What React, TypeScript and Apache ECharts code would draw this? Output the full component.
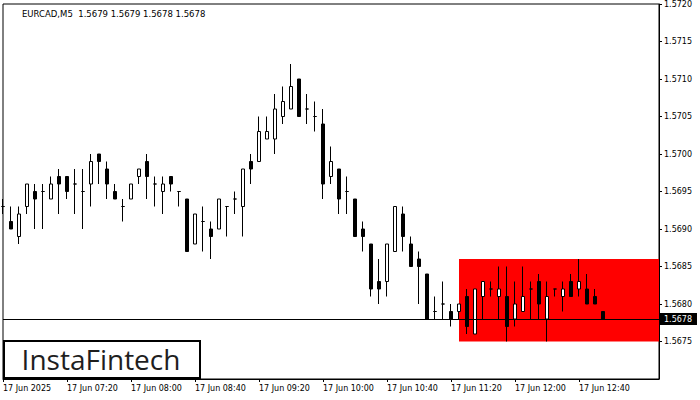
import React, { useEffect, useRef } from 'react';
import * as echarts from 'echarts';

// ---- Data (EURCAD, M5, 17 Jun 2025) ----
const dayLabel = '17 Jun 2025';
const datePrefix = '17 Jun ';
const firstSlot = '06:40';
const slotCount = 83; // 76 bars + 7 empty slots on the right

const opens = [
  1.5693, 1.5691, 1.5689, 1.5693, 1.5695, 1.5695, 1.5694, 1.5697, 1.5697, 1.5696,
  1.5695, 1.5696, 1.5700, 1.5698, 1.5695, 1.5693, 1.5694, 1.5697, 1.5699, 1.5696,
  1.5695, 1.5697, 1.5695, 1.5694, 1.5688, 1.5691, 1.5690, 1.5690, 1.5693, 1.5694,
  1.5693, 1.5699, 1.5699, 1.5702, 1.5702, 1.5705, 1.5706, 1.5710, 1.5706, 1.5705,
  1.5704, 1.5697, 1.5698, 1.5695, 1.5694, 1.5690, 1.5688, 1.5683, 1.5683, 1.5687,
  1.5692, 1.5688, 1.5686, 1.5684, 1.5679, 1.5680, 1.5679, 1.5679, 1.5681, 1.5676,
  1.5681, 1.5682, 1.5681, 1.5681, 1.5678, 1.5679, 1.5682, 1.5683, 1.5678, 1.5682,
  1.5681, 1.5683, 1.5682, 1.5682, 1.5681, 1.5679,
];
const closes = [
  1.5693, 1.5690, 1.5692, 1.5696, 1.5694, 1.5695, 1.5696, 1.5696, 1.5695, 1.5696,
  1.5695, 1.5699, 1.5699, 1.5696, 1.5694, 1.5693, 1.5696, 1.5698, 1.5697, 1.5696,
  1.5696, 1.5696, 1.5695, 1.5687, 1.5692, 1.5691, 1.5689, 1.5694, 1.5693, 1.5694,
  1.5698, 1.5698, 1.5703, 1.5703, 1.5706, 1.5707, 1.5709, 1.5705, 1.5706, 1.5705,
  1.5696, 1.5699, 1.5694, 1.5695, 1.5689, 1.5689, 1.5682, 1.5682, 1.5688, 1.5693,
  1.5689, 1.5685, 1.5685, 1.5678, 1.5679, 1.5680, 1.5678, 1.5680, 1.5677, 1.5682,
  1.5683, 1.5682, 1.5682, 1.5677, 1.5680, 1.5681, 1.5682, 1.5680, 1.5681, 1.5682,
  1.5682, 1.5681, 1.5683, 1.5680, 1.5680, 1.5678,
];
const lows = [
  1.5692, 1.5690, 1.5688, 1.5692, 1.5690, 1.5690, 1.5694, 1.5692, 1.5694, 1.5692,
  1.5690, 1.5693, 1.5696, 1.5694, 1.5694, 1.5691, 1.5694, 1.5696, 1.5694, 1.5693,
  1.5692, 1.5695, 1.5693, 1.5687, 1.5688, 1.5687, 1.5686, 1.5690, 1.5689, 1.5692,
  1.5689, 1.5696, 1.5699, 1.5702, 1.5700, 1.5704, 1.5706, 1.5705, 1.5704, 1.5703,
  1.5694, 1.5696, 1.5692, 1.5692, 1.5689, 1.5687, 1.5681, 1.5680, 1.5681, 1.5687,
  1.5687, 1.5685, 1.5680, 1.5678, 1.5678, 1.5678, 1.5677, 1.5678, 1.5676, 1.5676,
  1.5678, 1.5681, 1.5678, 1.5675, 1.5677, 1.5679, 1.5678, 1.5678, 1.5675, 1.5681,
  1.5679, 1.5681, 1.5681, 1.5680, 1.5680, 1.5678,
];
const highs = [
  1.5694, 1.5693, 1.5693, 1.5696, 1.5696, 1.5696, 1.5697, 1.5698, 1.5697, 1.5698,
  1.5698, 1.5700, 1.5700, 1.5699, 1.5696, 1.5694, 1.5696, 1.5698, 1.5700, 1.5697,
  1.5697, 1.5697, 1.5695, 1.5694, 1.5692, 1.5693, 1.5691, 1.5694, 1.5693, 1.5695,
  1.5698, 1.5700, 1.5705, 1.5705, 1.5708, 1.5709, 1.5712, 1.5710, 1.5708, 1.5707,
  1.5706, 1.5701, 1.5698, 1.5697, 1.5694, 1.5691, 1.5688, 1.5686, 1.5688, 1.5693,
  1.5693, 1.5689, 1.5687, 1.5684, 1.5681, 1.5683, 1.5680, 1.5680, 1.5682, 1.5682,
  1.5683, 1.5683, 1.5685, 1.5685, 1.5683, 1.5685, 1.5683, 1.5684, 1.5683, 1.5682,
  1.5683, 1.5684, 1.5686, 1.5684, 1.5682, 1.5679,
];

const priceTicks = [1.5675, 1.568, 1.5685, 1.569, 1.5695, 1.57, 1.5705, 1.571, 1.5715, 1.572];
const priceMin = 1.567;
const priceMax = 1.572;
const bidPrice = 1.5678;
const zoneTop = 1.5686;
const zoneBottom = 1.5675;
const zoneStart = '11:25';
const zoneEnd = '13:30';
const titleText = 'EURCAD,M5  1.5679 1.5679 1.5678 1.5678';
const logoText = 'InstaFintech';

function buildSlots(): string[] {
  const [h0, m0] = firstSlot.split(':').map(Number);
  const out: string[] = [];
  for (let i = 0; i < slotCount; i++) {
    const t = h0 * 60 + m0 + i * 5;
    const hh = String(Math.floor(t / 60)).padStart(2, '0');
    const mm = String(t % 60).padStart(2, '0');
    out.push(`${hh}:${mm}`);
  }
  return out;
}

export default function App() {
  const ref = useRef<HTMLDivElement>(null);

  useEffect(() => {
    if (!ref.current) return;
    const chart = echarts.init(ref.current, undefined, { renderer: 'svg' });
    const slots = buildSlots();
    const candles = opens.map((o, i) => [o, closes[i], lows[i], highs[i]]);
    const font = 'DejaVu Sans';
    const showIdx = (i: number) => i % 8 === 0 && i <= 72;

    chart.setOption({
      animation: false,
      backgroundColor: '#ffffff',
      title: {
        text: titleText,
        left: 17,
        top: 4,
        textStyle: { fontFamily: font, fontSize: 8.5, fontWeight: 'normal', color: '#000' },
      },
      grid: {
        left: 3,
        right: 41,
        top: 3,
        bottom: 21,
        show: true,
        borderColor: '#000',
        borderWidth: 1,
        backgroundColor: 'transparent',
      },
      xAxis: {
        type: 'category',
        data: slots,
        boundaryGap: false,
        axisLine: { show: true, lineStyle: { color: '#000', width: 1 } },
        axisTick: { show: true, length: 3, interval: (i: number) => showIdx(i), lineStyle: { color: '#000' } },
        axisLabel: {
          interval: (i: number) => showIdx(i),
          formatter: (v: string, i: number) => (i === 0 ? dayLabel : datePrefix + v),
          align: 'left',
          margin: 5,
          fontFamily: font,
          fontSize: 8,
          color: '#000',
        },
        splitLine: { show: false },
      },
      yAxis: [
        {
          type: 'value',
          position: 'right',
          min: priceMin,
          max: priceMax,
          scale: true,
          axisLine: { show: true, lineStyle: { color: '#000', width: 1 } },
          axisTick: { show: true, length: 3, customValues: priceTicks, lineStyle: { color: '#000' } },
          axisLabel: {
            customValues: priceTicks,
            formatter: (v: number) => v.toFixed(4),
            margin: 5,
            fontFamily: font,
            fontSize: 8,
            color: '#000',
          },
          splitLine: { show: false },
        },
        {
          type: 'value',
          position: 'right',
          min: priceMin,
          max: priceMax,
          scale: true,
          axisLine: { show: false },
          axisTick: { show: false },
          axisLabel: {
            customValues: [bidPrice],
            formatter: (v: number) => v.toFixed(4),
            margin: 1,
            fontFamily: font,
            fontSize: 8,
            color: '#fff',
            backgroundColor: '#000',
            padding: [2, 5, 2, 4],
          },
          splitLine: { show: false },
        },
      ],
      series: [
        {
          type: 'candlestick',
          name: 'EURCAD',
          data: candles,
          barWidth: 4,
          itemStyle: {
            color: '#ffffff',
            color0: '#000000',
            borderColor: '#000000',
            borderColor0: '#000000',
            borderColorDoji: '#000000',
            borderWidth: 1,
          },
          markArea: {
            silent: true,
            itemStyle: { color: '#ff0000', opacity: 1 },
            data: [[{ xAxis: zoneStart, yAxis: zoneTop }, { xAxis: zoneEnd, yAxis: zoneBottom }]],
          },
          markLine: {
            silent: true,
            symbol: ['none', 'none'],
            label: { show: false },
            lineStyle: { color: '#000', width: 1, type: 'solid' },
            data: [[{ coord: [slots[0], bidPrice] }, { coord: [slots[slotCount - 1], bidPrice] }]],
          },
        },
      ],
      graphic: [
        {
          type: 'group',
          children: [
            {
              type: 'rect',
              shape: { x: 4, y: 341, width: 196, height: 37 },
              style: { fill: '#ffffff', stroke: '#000000', lineWidth: 2 },
              z: 10,
            },
            {
              type: 'text',
              style: {
                text: logoText,
                x: 101,
                y: 359,
                align: 'center',
                verticalAlign: 'middle',
                font: '28px "Open Sans"',
                fill: '#1e1e1e',
              },
              z: 11,
            },
          ],
        },
      ],
    });
    return () => chart.dispose();
  }, []);

  return <div ref={ref} style={{ position: 'absolute', left: 0, top: 0, width: 700, height: 400 }} />;
}
